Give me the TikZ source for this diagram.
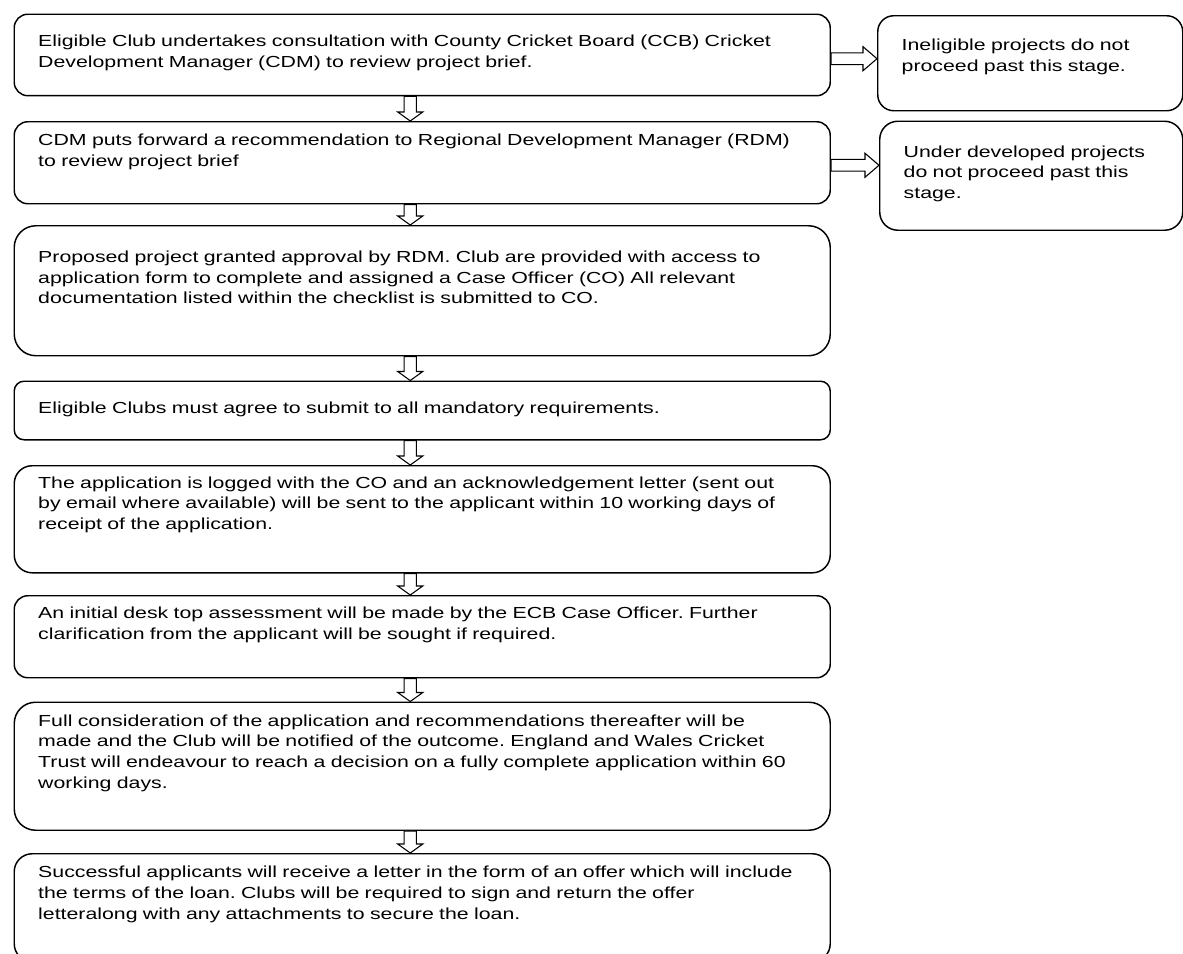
\documentclass[tikz,border=0pt]{standalone}
\usepackage{fontspec}
\setmainfont{Liberation Sans}[FakeStretch=1.33]
\usetikzlibrary{calc}
\newcommand{\stepfont}{\fontsize{12pt}{15.5pt}\selectfont}
\frenchspacing

\begin{document}
\begin{tikzpicture}[x=0.75pt,y=-0.75pt]
	\tikzset{stepbox/.style={draw, line width=1.1pt, fill=white, anchor=north west, align=left, inner xsep=18pt, inner ysep=0pt, font=\stepfont},
		downarrow/.style={draw, fill=white, line width=0.8pt, to path={let \p1=(\tikztostart), \p2=(\tikztotarget) in
			(\x1-4.6pt,\y1) -- (\x1+4.6pt,\y1) -- (\x1+4.6pt,\y2+6.75pt) -- (\x1+9.4pt,\y2+6.75pt) -- (\x1,\y2) -- (\x1-9.4pt,\y2+6.75pt) -- (\x1-4.6pt,\y2+6.75pt) -- cycle}},
		sidearrow/.style={draw, fill=white, line width=0.8pt, to path={let \p1=(\tikztostart), \p2=(\tikztotarget) in
			(\x1,\y1+4.4pt) -- (\x2-10.5pt,\y1+4.4pt) -- (\x2-10.5pt,\y1+9pt) -- (\x2,\y1) -- (\x2-10.5pt,\y1-9pt) -- (\x2-10.5pt,\y1-4.4pt) -- (\x1,\y1-4.4pt) -- cycle}}}
	\useasboundingbox (0,0) rectangle (1183,954);
	\node[stepbox, text width=576pt, text height=24.4pt, text depth=36.7pt, rounded corners=10.2pt] (step1) at (13.5,13.5)
		{Eligible Club undertakes consultation with County Cricket Board (CCB) Cricket\\Development Manager (CDM) to review project brief.};
	\node[stepbox, text width=576pt, text height=18pt, text depth=43.5pt, rounded corners=10.2pt] (step2) at (13.5,121)
		{CDM puts forward a recommendation to Regional Development Manager (RDM)\\to review project brief};
	\node[stepbox, text width=576pt, text height=27.5pt, text depth=70pt, rounded corners=16.3pt] (step3) at (13.5,225)
		{Proposed project granted approval by RDM. Club are provided with access to\\application form to complete and assigned a Case Officer (CO) All relevant\\documentation listed within the checklist is submitted to CO.};
	\node[stepbox, text width=576pt, text height=24.4pt, text depth=19.5pt, rounded corners=7.3pt] (step4) at (13.5,380.5)
		{Eligible Clubs must agree to submit to all mandatory requirements.};
	\node[stepbox, text width=576pt, text height=16.9pt, text depth=63.4pt, rounded corners=13.4pt] (step5) at (13.5,465)
		{The application is logged with the CO and an acknowledgement letter (sent out\\by email where available) will be sent to the applicant within 10 working days of\\receipt of the application.};
	\node[stepbox, text width=576pt, text height=17.25pt, text depth=44.25pt, rounded corners=10.2pt] (step6) at (13.5,595)
		{An initial desk top assessment will be made by the ECB Case Officer. Further\\clarification from the applicant will be sought if required.};
	\node[stepbox, text width=576pt, text height=18pt, text depth=78pt, rounded corners=16pt] (step7) at (13.5,701.5)
		{Full consideration of the application and recommendations thereafter will be\\made and the Club will be notified of the outcome. England and Wales Cricket\\Trust will endeavour to reach a decision on a fully complete application within 60\\working days.};
	\node[stepbox, text width=576pt, text height=18pt, text depth=63pt, rounded corners=13.5pt] (step8) at (13.5,853)
		{Successful applicants will receive a letter in the form of an offer which will include\\the terms of the loan. Clubs will be required to sign and return the offer\\letteralong with any attachments to secure the loan.};
	\node[stepbox, text width=192.75pt, text height=26.25pt, text depth=45pt, rounded corners=12pt] (side1) at (877,15)
		{Ineligible projects do not\\proceed past this stage.};
	\node[stepbox, text width=191.25pt, text height=27pt, text depth=54.75pt, rounded corners=13.6pt] (side2) at (879,120.5)
		{Under developed projects\\do not proceed past this\\stage.};
	\foreach \a/\b in {step1/step2,step2/step3,step3/step4,step4/step5,step5/step6,step6/step7,step7/step8}
		\draw[downarrow] ([xshift=-9pt]\a.south) to ([xshift=-9pt]\b.north);
	\draw[sidearrow] ([yshift=-2.8pt]step1.east) to (side1.west);
	\draw[sidearrow] ([yshift=-1.9pt]step2.east) to (side2.west);
\end{tikzpicture}
\end{document}
